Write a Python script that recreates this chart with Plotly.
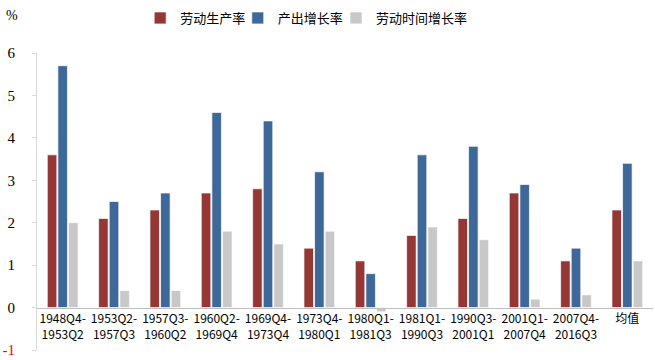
import plotly.graph_objects as go

categories = ["1948Q4-<br>1953Q2", "1953Q2-<br>1957Q3", "1957Q3-<br>1960Q2", "1960Q2-<br>1969Q4",
              "1969Q4-<br>1973Q4", "1973Q4-<br>1980Q1", "1980Q1-<br>1981Q3", "1981Q1-<br>1990Q3",
              "1990Q3-<br>2001Q1", "2001Q1-<br>2007Q4", "2007Q4-<br>2016Q3", "均值"]
productivity = [3.6, 2.1, 2.3, 2.7, 2.8, 1.4, 1.1, 1.7, 2.1, 2.7, 1.1, 2.3]
output_growth = [5.7, 2.5, 2.7, 4.6, 4.4, 3.2, 0.8, 3.6, 3.8, 2.9, 1.4, 3.4]
hours_growth = [2.0, 0.4, 0.4, 1.8, 1.5, 1.8, -0.1, 1.9, 1.6, 0.2, 0.3, 1.1]
series_names = ["劳动生产率", "产出增长率", "劳动时间增长率"]
tick_vals = [-1, 0, 1, 2, 3, 4, 5, 6]
tick_text = ["<span style='color:#FF0000'>-1</span>", "0", "1", "2", "3", "4", "5", "6"]

colors = ["#953735", "#3E6899", "#C8C8C8"]
legend_ids = ["legend", "legend2", "legend3"]
legend_x = [0.214, 0.363, 0.513]
font_cjk = "Noto Sans CJK SC"

fig = go.Figure()
for name, vals, c, lg in zip(series_names, [productivity, output_growth, hours_growth], colors, legend_ids):
    fig.add_trace(go.Bar(x=categories, y=vals, name=name, marker_color=c, legend=lg,
                         marker_line=dict(color="rgba(255,255,255,0.7)", width=1)))

legend_common = dict(orientation="h", xref="container", yref="container",
                     xanchor="left", y=0.95, yanchor="middle",
                     font=dict(family=font_cjk, size=13, color="#000000"),
                     itemwidth=30, bgcolor="rgba(0,0,0,0)")

fig.update_layout(
    width=655, height=360,
    margin=dict(l=37, r=2, t=53, b=10, autoexpand=False),
    paper_bgcolor="white", plot_bgcolor="white",
    barmode="group", bargap=0.38, bargroupgap=0.1,
    font=dict(family=font_cjk, size=12, color="#000000"),
    showlegend=True,
    legend=dict(x=legend_x[0], **legend_common),
    legend2=dict(x=legend_x[1], **legend_common),
    legend3=dict(x=legend_x[2], **legend_common),
    xaxis=dict(anchor="free", position=1/7, showline=True, linecolor="#BFBFBF", linewidth=1,
               ticks="", showgrid=False, zeroline=False, automargin=False,
               tickfont=dict(family=font_cjk, size=12, color="#000000")),
    yaxis=dict(range=[-1, 6], tickvals=tick_vals, ticktext=tick_text, showgrid=False,
               zeroline=False, showline=True, linecolor="#D9D9D9", linewidth=1,
               ticks="outside", ticklen=4, tickcolor="#D9D9D9", ticklabelstandoff=14,
               automargin=False,
               tickfont=dict(family="Liberation Serif", size=15, color="#000000")),
    annotations=[dict(text="%", xref="paper", yref="paper", x=-0.04, y=1.125,
                      xanchor="center", yanchor="middle", showarrow=False,
                      font=dict(family="Liberation Serif", size=14, color="#000000"))],
)

fig.write_html("out.html", config={"displayModeBar": False},
               post_script="document.body.style.margin='0';")
